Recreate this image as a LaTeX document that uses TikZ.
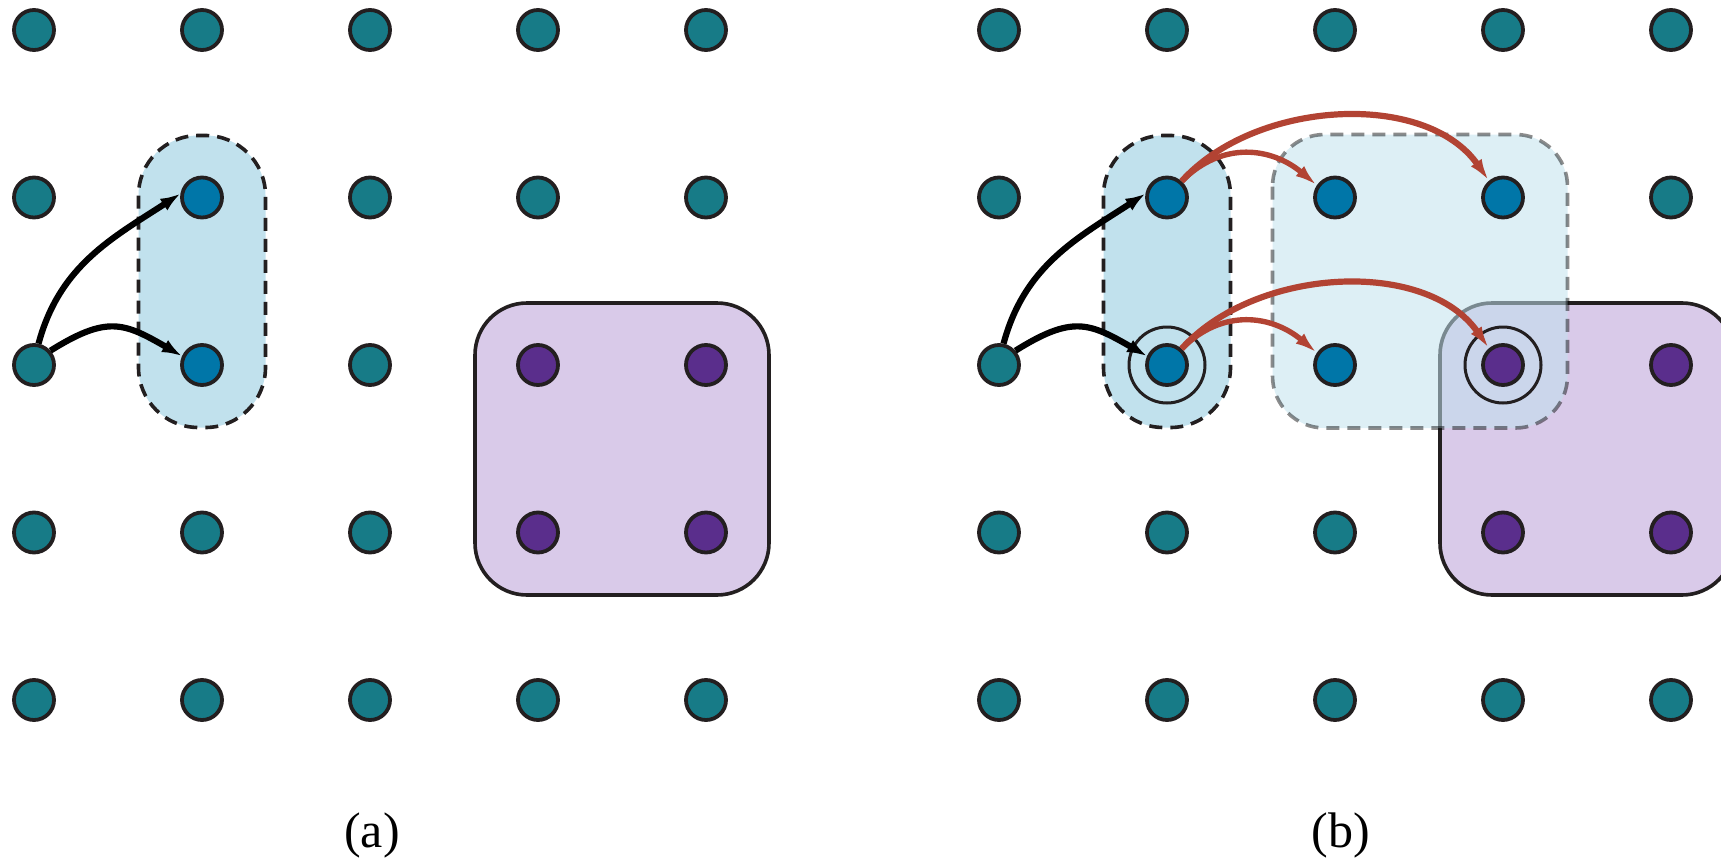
\documentclass[tikz,border=0pt]{standalone}
\usepackage{fontspec}
\setmainfont{Liberation Serif}
\usetikzlibrary{arrows.meta}
\definecolor{tealn}{HTML}{177B87}
\definecolor{bluen}{HTML}{0076A8}
\definecolor{purpn}{HTML}{5A2E8C}
\definecolor{boxblue}{HTML}{C1E1ED}
\definecolor{boxpurp}{HTML}{D9CAE9}
\definecolor{redarr}{HTML}{B24333}
\definecolor{ink}{HTML}{231F20}
\begin{document}
\begin{tikzpicture}[x=0.5pt,y=0.5pt,
  dot/.style={circle,draw=ink,line width=1.9pt,minimum size=20pt,inner sep=0pt},
  tdot/.style={dot,fill=tealn},
  bdot/.style={dot,fill=bluen},
  pdot/.style={dot,fill=purpn},
  ring/.style={draw=ink,line width=1.5pt},
  grpbox/.style={fill=boxblue,draw=ink,line width=1.8pt,dash pattern=on 6.5pt off 4pt,rounded corners=30pt},
  ghostbox/.style={fill=boxblue,fill opacity=0.55,draw=black,draw opacity=0.45,line width=1.8pt,dash pattern=on 6.5pt off 4pt,rounded corners=26pt},
  purpbox/.style={fill=boxpurp,draw=ink,line width=1.8pt,rounded corners=26pt},
  blackarr/.style={-{Latex[length=10pt,width=7pt]},line width=3.1pt,draw=black},
  redarrow/.style={-{Latex[length=11pt,width=6.5pt]},line width=2.7pt,draw=redarr},
  redlong/.style={redarrow,line width=3.1pt},
  lbl/.style={font=\fontsize{25}{30}\selectfont,anchor=base,inner sep=0pt}
]
\useasboundingbox (0,0) rectangle (1721,-862);
\clip (0,0) rectangle (1721,-862);

% group boxes
\draw[purpbox] (475,-303) rectangle (769,-595);
\draw[purpbox] (1440,-303) rectangle (1734,-595);
\draw[grpbox] (138.5,-135.5) rectangle (265.5,-427.5);
\draw[grpbox] (1103.5,-135.5) rectangle (1230.5,-427.5);
\draw[ghostbox] (1272.5,-134.5) rectangle (1567.5,-428);

% panel (a) nodes
\foreach \c/\r/\s in {0/0/tdot,1/0/tdot,2/0/tdot,3/0/tdot,4/0/tdot,
  0/1/tdot,1/1/bdot,2/1/tdot,3/1/tdot,4/1/tdot,
  0/2/tdot,1/2/bdot,2/2/tdot,3/2/pdot,4/2/pdot,
  0/3/tdot,1/3/tdot,2/3/tdot,3/3/pdot,4/3/pdot,
  0/4/tdot,1/4/tdot,2/4/tdot,3/4/tdot,4/4/tdot}
  \node[\s] (a\c\r) at ({34+168*\c},{-30-167.5*\r}) {};

% panel (b) nodes
\foreach \c/\r/\s in {0/0/tdot,1/0/tdot,2/0/tdot,3/0/tdot,4/0/tdot,
  0/1/tdot,1/1/bdot,2/1/bdot,3/1/bdot,4/1/tdot,
  0/2/tdot,1/2/bdot,2/2/bdot,3/2/pdot,4/2/pdot,
  0/3/tdot,1/3/tdot,2/3/tdot,3/3/pdot,4/3/pdot,
  0/4/tdot,1/4/tdot,2/4/tdot,3/4/tdot,4/4/tdot}
  \node[\s] (b\c\r) at ({999+168*\c},{-30-167.5*\r}) {};

% rings
\draw[ring] (b12.center) circle[radius=38];
\draw[ring] (b32.center) circle[radius=38];

% black arrows
\draw[blackarr] (a02.78) to[out=75,in=-147] (a11.170);
\draw[blackarr] (a02.41) to[out=32,in=150,looseness=1.3] (a12.156);
\draw[blackarr] (b02.78) to[out=75,in=-147] (b11.170);
\draw[blackarr] (b02.41) to[out=32,in=150,looseness=1.3] (b12.156);

% red arrows
\draw[redarrow] (b11.48) to[out=45,in=140,looseness=1.1] (b21.146);
\draw[redlong] (b11.48) to[out=48,in=125,looseness=0.92] (b31.130);
\draw[redarrow] (b12.48) to[out=45,in=140,looseness=1.1] (b22.146);
\draw[redlong] (b12.48) to[out=48,in=125,looseness=0.92] (b32.130);

% labels
\node[lbl] (la) at (372,-847) {(a)};
\node[lbl] (lb) at (1341,-847) {(b)};
\end{tikzpicture}
\end{document}
